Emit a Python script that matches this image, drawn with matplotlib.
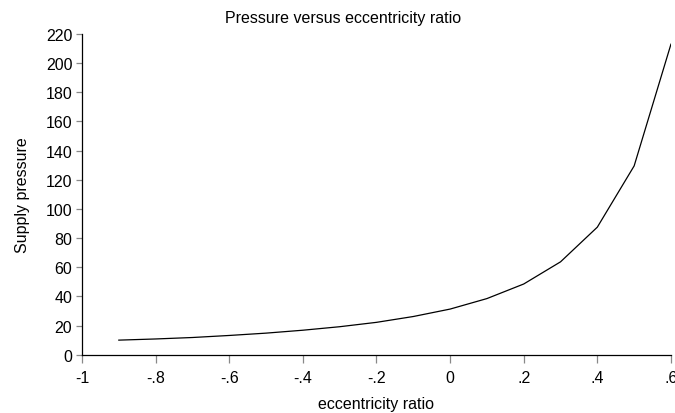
import numpy as np
import matplotlib
matplotlib.use("Agg")
import matplotlib.pyplot as plt

plt.rcParams["font.family"] = ["Liberation Sans", "DejaVu Sans"]

# supply pressure at each eccentricity ratio
ecc = [-0.9, -0.8, -0.7, -0.6, -0.5, -0.4, -0.3, -0.2, -0.1, 0.0, 0.1, 0.2, 0.3, 0.4, 0.5, 0.6]
pressure = [10.0, 10.8, 11.8, 13.2, 14.8, 16.8, 19.2, 22.2, 26.2, 31.3, 38.5, 48.5, 63.7, 87.5, 129.5, 213.0]

xticks = [-1, -0.8, -0.6, -0.4, -0.2, 0, 0.2, 0.4, 0.6]
xticklabels = ["-1", "-.8", "-.6", "-.4", "-.2", "0", ".2", ".4", ".6"]
yticks = list(range(0, 221, 20))

fs = 11.5

fig = plt.figure(figsize=(6.75, 4.14), dpi=100)
ax = fig.add_axes([0.1215, 0.1408, 0.8725, 0.7747])

ax.plot(ecc, pressure, color="black", linewidth=0.9)

ax.set_xlim(-1, 0.6)
ax.set_ylim(0, 220)
ax.set_xticks(xticks)
ax.set_xticklabels(xticklabels)
ax.set_yticks(yticks)

for side in ["top", "right"]:
    ax.spines[side].set_visible(False)
for side in ["left", "bottom"]:
    ax.spines[side].set_linewidth(0.9)
    ax.spines[side].set_color("black")

ax.tick_params(axis="both", direction="out", colors="#888888", labelcolor="black",
               labelsize=fs, width=0.9)
ax.tick_params(axis="y", length=4, pad=3)
ax.tick_params(axis="x", length=6, pad=5)

ax.set_xlabel("eccentricity ratio", fontsize=fs, labelpad=8)
ax.set_ylabel("Supply pressure", fontsize=fs, labelpad=11)
fig.text(0.508, 1 - 18 / 414, "Pressure versus eccentricity ratio",
         ha="center", va="center", fontsize=fs)

fig.savefig("out.png", dpi=100)
